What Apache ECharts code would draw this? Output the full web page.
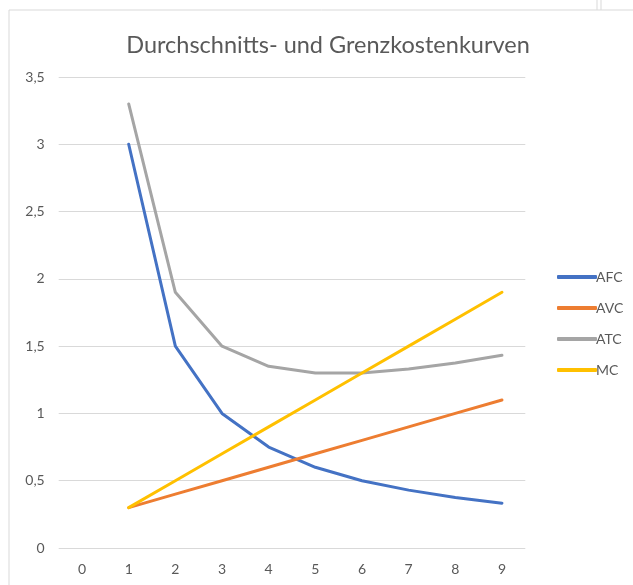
<!DOCTYPE html>
<html><head><meta charset="utf-8">
<script src="https://cdn.jsdelivr.net/npm/echarts@6/dist/echarts.min.js"></script>
<style>html,body{margin:0;padding:0;background:#fff}#c{width:633px;height:585px}</style>
</head><body><div id="c"></div>
<script>
const categories = ['0','1','2','3','4','5','6','7','8','9'];
const AFC = [null, 3, 1.5, 1, 0.75, 0.6, 0.5, 0.43, 0.375, 0.333];
const AVC = [null, 0.3, 0.4, 0.5, 0.6, 0.7, 0.8, 0.9, 1.0, 1.1];
const ATC = [null, 3.3, 1.9, 1.5, 1.35, 1.3, 1.3, 1.33, 1.375, 1.433];
const MC  = [null, 0.3, 0.5, 0.7, 0.9, 1.1, 1.3, 1.5, 1.7, 1.9];
const seriesNames = ['AFC','AVC','ATC','MC'];
const seriesData = [AFC, AVC, ATC, MC];
const colors = ['#4472C4','#ED7D31','#A5A5A5','#FFC000'];

const font = 'Lato, "Open Sans", sans-serif';
const chart = echarts.init(document.getElementById('c'));
chart.setOption({
  animation: false,
  title: {
    text: 'Durchschnitts- und Grenzkostenkurven',
    left: 323, top: 28, textAlign: 'center',
    textStyle: {fontFamily: font, fontSize: 23.5, fontWeight: 'normal', color: '#595959'}
  },
  legend: {
    orient: 'vertical', left: 552, top: 265, itemGap: 17,
    itemWidth: 40, itemHeight: 4, icon: 'roundRect',
    textStyle: {fontFamily: font, fontSize: 14, lineHeight: 14, color: '#595959', padding: [0,0,0,-6]},
    data: seriesNames
  },
  grid: {left: 58.7, right: 107.7, top: 77, bottom: 37},
  xAxis: {
    type: 'category', data: categories, boundaryGap: true,
    axisLine: {show: false}, axisTick: {show: false},
    axisLabel: {fontFamily: font, fontSize: 14, color: '#595959', margin: 14}
  },
  yAxis: {
    type: 'value', min: 0, max: 3.5, interval: 0.5,
    axisLine: {show: false}, axisTick: {show: false},
    splitLine: {lineStyle: {color: '#D9D9D9', width: 1}},
    axisLabel: {fontFamily: font, fontSize: 14, color: '#595959', margin: 14,
      formatter: v => String(v).replace('.', ',')}
  },
  series: seriesNames.map((n, i) => ({
    name: n, type: 'line', data: seriesData[i], color: colors[i],
    symbol: 'none', lineStyle: {width: 3, color: colors[i], cap: 'round', join: 'round'}
  })),
  graphic: [
    {type: 'rect', shape: {x: 9, y: 10, width: 700, height: 700}, style: {fill: null, stroke: '#D9D9D9', lineWidth: 1}, z: -10, silent: true},
    {type: 'line', shape: {x1: 597, y1: 0, x2: 597, y2: 10}, style: {stroke: '#D9D9D9', lineWidth: 1}},
    {type: 'line', shape: {x1: 601, y1: 0, x2: 601, y2: 10}, style: {stroke: '#D9D9D9', lineWidth: 1}}
  ]
});
</script></body></html>
